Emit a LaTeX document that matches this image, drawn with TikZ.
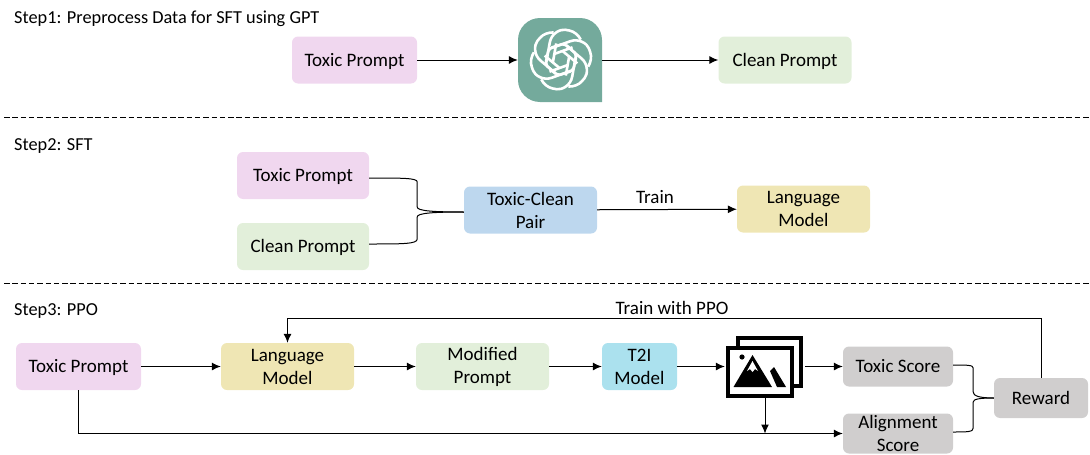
\documentclass[tikz,border=0pt]{standalone}
\usepackage{fontspec}
\usetikzlibrary{arrows.meta}
\setmainfont{Carlito}
\tikzset{
	box/.style={rounded corners=6pt, minimum height=47pt, inner sep=0pt, align=center, font=\fontsize{19}{23}\selectfont},
	oneline/.style={text height=14pt, text depth=2pt},
	toxicbox/.style={box, oneline, fill=toxicpink},
	cleanbox/.style={box, fill=cleangreen, minimum width=133pt},
	modelbox/.style={box, fill=modelyellow, minimum width=133pt},
	scorebox/.style={box, fill=scoregray, minimum width=110pt, minimum height=40pt},
	link/.style={draw=black, line width=1pt},
	arrow/.style={link, -{Latex[length=9pt,width=8pt]}},
	steptext/.style={anchor=west, inner sep=0pt, font=\fontsize{18.3}{22}\selectfont},
	cut/.style={line width=1pt, dash pattern=on 5.5pt off 2.8pt},
	strand/.style={white, line width=2.6pt, rounded corners=2pt}
}
\definecolor{toxicpink}{HTML}{F0D7EF}
\definecolor{cleangreen}{HTML}{E2EFDA}
\definecolor{pairblue}{HTML}{BDD7EE}
\definecolor{modelyellow}{HTML}{EFE6B4}
\definecolor{tticyan}{HTML}{ABE1EE}
\definecolor{scoregray}{HTML}{D0CECE}
\definecolor{gptteal}{HTML}{74AA9C}
\begin{document}
\begin{tikzpicture}[x=1pt, y=-1pt]
	\useasboundingbox (0,0) rectangle (1090,455);
	\node[steptext] (stepone) at (14,19) {Step1: Preprocess Data for SFT using GPT};
	\node[steptext] (steptwo) at (14,146) {Step2: SFT};
	\node[steptext] (stepthree) at (14,311) {Step3: PPO};
	\coordinate (cutoneleft) at (4,117);
	\coordinate (cutoneright) at (1090,117);
	\coordinate (cuttwoleft) at (4,283);
	\coordinate (cuttworight) at (1090,283);
	\draw[cut] (cutoneleft) -- (cutoneright);
	\draw[cut] (cuttwoleft) -- (cuttworight);

	\node[toxicbox, minimum width=125pt] (toxica) at (354.5,60) {Toxic Prompt};
	\node[minimum width=84pt, minimum height=84pt, inner sep=0pt] (gpt) at (560,60) {};
	\fill[gptteal] (602,102) -- (540,102) arc (90:180:22) -- (518,40) arc (180:270:22) -- (580,18) arc (270:360:22) -- cycle;
	\foreach \i in {0,60,...,300} {
		\begin{scope}[shift={(561,59.5)}, rotate=\i-10]
			\draw[strand] (-3,15) -- (-14,8) -- (-14,-13) .. controls (-14,-24) and (-6,-30) .. (1,-30) .. controls (8,-30) and (13,-27) .. (16,-23);
			\draw[strand] (-7.5,4.3) -- (-7.5,-15);
		\end{scope}
	}
	\node[cleanbox, oneline] (cleana) at (785,60) {Clean Prompt};
	\draw[arrow] (toxica) -- (gpt);
	\draw[arrow] (gpt) -- (cleana);

	\node[toxicbox, minimum width=132pt] (toxicb) at (303,175.5) {Toxic Prompt};
	\node[cleanbox, oneline, minimum width=132pt] (cleanb) at (303,246.5) {Clean Prompt};
	\node[box, fill=pairblue, minimum width=133pt] (pair) at (530.5,210) {Toxic-Clean\\Pair};
	\node[modelbox] (modelb) at (803.5,209) {Language\\Model};
	\node[font=\fontsize{19}{22}\selectfont, inner sep=0pt] (trainb) at (655,197) {Train};
	\draw[link] ([yshift=-2.5pt]toxicb.east) .. controls +(34,0) and +(0,-4) .. ++(48,4) -- ++(0,25) .. controls +(0,4) and +(-30,0) .. ([yshift=-2pt]pair.west);
	\draw[link] ([yshift=2.5pt]cleanb.east) .. controls +(34,0) and +(0,5) .. ++(48,-5) -- ++(0,-22) .. controls +(0,-4) and +(-30,0) .. ([yshift=-2pt]pair.west);
	\draw[arrow] (pair) -- (modelb);

	\node[toxicbox, minimum width=125pt] (toxicc) at (78.5,366.5) {Toxic Prompt};
	\node[modelbox] (modelc) at (287.5,366.5) {Language\\Model};
	\node[cleanbox] (modified) at (482.5,366.5) {Modified\\Prompt};
	\node[box, fill=tticyan, minimum width=75pt] (tti) at (639.5,366.5) {T2I\\Model};
	\node[minimum width=80pt, minimum height=61pt, inner sep=0pt] (images) at (765,366.5) {};
	\draw[line width=4.5pt] (738,338) rectangle (801,386);
	\draw[line width=4.5pt, fill=white] (728,348) rectangle (792,396);
	\fill (742,357) circle (2.6);
	\fill (733.5,387) -- (752.5,355) -- (772,387) -- cycle;
	\fill (777,387) -- (770,371) -- (774,367) -- (786,387) -- cycle;
	\fill[white] (752.5,361) -- (758,371) -- (755,369) -- (752.5,372) -- (750,369) -- (747,371) -- cycle;
	\node[scorebox, oneline] (toxicscore) at (898,366.5) {Toxic Score};
	\node[scorebox] (alignscore) at (898,433.5) {Alignment\\Score};
	\node[scorebox, minimum width=94pt] (reward) at (1041,398) {Reward};
	\node[font=\fontsize{19}{22}\selectfont, inner sep=0pt] (trainc) at (672,308) {Train with PPO};
	\coordinate (imagesdrop) at (images.south |- alignscore);
	\coordinate (returncorner) at (modelc |- 0,318);
	\draw[arrow] (toxicc) -- (modelc);
	\draw[arrow] (modelc) -- (modified);
	\draw[arrow] (modified) -- (tti);
	\draw[arrow] (tti) -- (images);
	\draw[arrow] (images) -- (toxicscore);
	\draw[arrow] (toxicc.south) |- (alignscore);
	\draw[arrow] (images.south) -- (imagesdrop);
	\draw[link] ([yshift=1.5pt]toxicscore.east) .. controls +(14,0) and +(0,-3) .. ++(20,3) -- ++(0,24) .. controls +(0,4) and +(-14,0) .. (reward.west);
	\draw[link] ([yshift=1.5pt]alignscore.east) .. controls +(14,0) and +(0,4) .. ++(20,-4) -- ++(0,-26) .. controls +(0,-3) and +(-14,0) .. (reward.west);
	\draw[arrow] (reward.north) |- (returncorner) -- (modelc.north);
\end{tikzpicture}
\end{document}
